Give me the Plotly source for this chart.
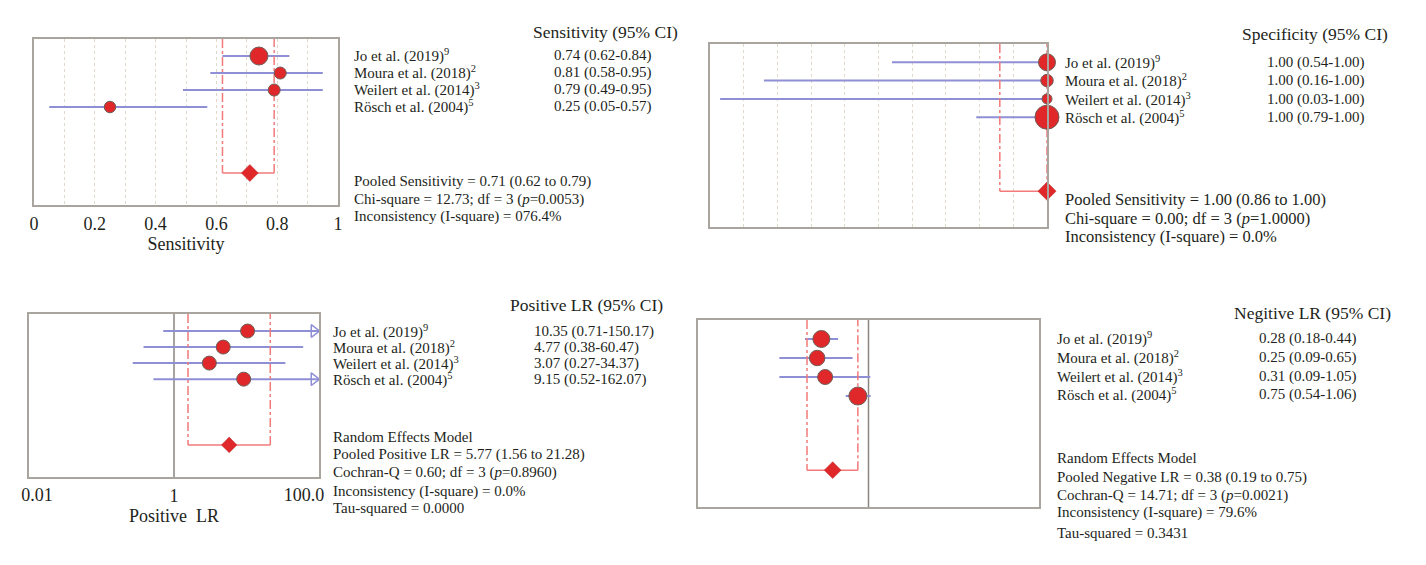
import plotly.graph_objects as go

# ---------------- data ----------------
studies = ["Jo et al. (2019)", "Moura et al. (2018)", "Weilert et al. (2014)", "Rösch et al. (2004)"]
refs = ["9", "2", "3", "5"]

sens = [0.74, 0.81, 0.79, 0.25]
sens_lo = [0.62, 0.58, 0.49, 0.05]
sens_hi = [0.84, 0.95, 0.95, 0.57]
sens_pooled = [0.71, 0.62, 0.79]

spec = [1.00, 1.00, 1.00, 1.00]
spec_lo = [0.54, 0.16, 0.03, 0.79]
spec_hi = [1.00, 1.00, 1.00, 1.00]
spec_pooled = [1.00, 0.86, 1.00]

plr = [10.35, 4.77, 3.07, 9.15]
plr_lo = [0.71, 0.38, 0.27, 0.52]
plr_hi = [150.17, 60.47, 34.37, 162.07]
plr_pooled = [5.77, 1.56, 21.28]

nlr = [0.28, 0.25, 0.31, 0.75]
nlr_lo = [0.18, 0.09, 0.09, 0.54]
nlr_hi = [0.44, 0.65, 1.05, 1.06]
nlr_pooled = [0.38, 0.19, 0.75]

sens_ticks = [0, 0.2, 0.4, 0.6, 0.8, 1]
sens_ticktext = ["0", "0.2", "0.4", "0.6", "0.8", "1"]
plr_ticks = [0.01, 1, 100]
plr_ticktext = ["0.01", "1", "100.0"]

# ---------------- style ----------------
PAGE_W, PAGE_H = 1426, 565
OFF = 8  # default body margin of the html page
W, H = PAGE_W - 2 * OFF, PAGE_H - 2 * OFF
FONT = "Liberation Serif"
TXT = "#231f20"
RED = "#e0282a"
EDGE = "#6e5f58"
CI_COL = "#8f8fd6"
POOL_COL = "#f27a7a"
BOX = "#aaa49e"
GRID = "#e0d8ca"


def px(x):
    return (x - OFF) / W


def py(y):
    return 1 - (y - OFF) / H


fig = go.Figure()

rows = [1, 2, 3, 4]


def forest(n, est, lo, hi, pooled, prow, ytop, sizes, dsize, xmax=None, arrow_x=None):
    xa = "x" if n == 1 else f"x{n}"
    ya = "y" if n == 1 else f"y{n}"
    cx, cy = [], []
    for r, l, h in zip(rows, lo, hi):
        hh = h if xmax is None else min(h, xmax)
        cx += [l, hh, None]
        cy += [r, r, None]
    fig.add_trace(go.Scatter(x=cx, y=cy, mode="lines", line=dict(color=CI_COL, width=2),
                             xaxis=xa, yaxis=ya, hoverinfo="skip", cliponaxis=False))
    if xmax is not None:
        ax_, ay_ = [], []
        for r, h in zip(rows, hi):
            if h > xmax:
                ax_.append(arrow_x)
                ay_.append(r)
        if ax_:
            fig.add_trace(go.Scatter(x=ax_, y=ay_, mode="markers",
                                     marker=dict(symbol="triangle-right-open", size=11, opacity=1,
                                                 color=CI_COL, line=dict(width=1.5, color=CI_COL)),
                                     xaxis=xa, yaxis=ya, hoverinfo="skip", cliponaxis=False))
    fig.add_trace(go.Scatter(x=[pooled[1], pooled[1], None, pooled[2], pooled[2]],
                             y=[ytop, prow, None, prow, ytop], mode="lines",
                             line=dict(color=POOL_COL, width=1.5, dash="dashdot"),
                             xaxis=xa, yaxis=ya, hoverinfo="skip", cliponaxis=False))
    fig.add_trace(go.Scatter(x=[pooled[1], pooled[2]], y=[prow, prow], mode="lines",
                             line=dict(color=POOL_COL, width=1.5),
                             xaxis=xa, yaxis=ya, hoverinfo="skip", cliponaxis=False))
    fig.add_trace(go.Scatter(x=est, y=rows, mode="markers",
                             marker=dict(size=sizes, color=RED, opacity=1,
                                         line=dict(color=EDGE, width=1)),
                             xaxis=xa, yaxis=ya, hoverinfo="skip", cliponaxis=False))
    fig.add_trace(go.Scatter(x=[pooled[0]], y=[prow], mode="markers",
                             marker=dict(symbol="diamond", size=dsize, color=RED, opacity=1,
                                         line=dict(color="#b83030", width=0.5)),
                             xaxis=xa, yaxis=ya, hoverinfo="skip", cliponaxis=False))


def refline(n, x0, ytop, ybot):
    xa = "x" if n == 1 else f"x{n}"
    ya = "y" if n == 1 else f"y{n}"
    fig.add_trace(go.Scatter(x=[x0, x0], y=[ytop, ybot], mode="lines",
                             line=dict(color="#8a8480", width=1.5),
                             xaxis=xa, yaxis=ya, hoverinfo="skip", cliponaxis=False))


P1 = dict(top=0.0, bot=9.76, prow=7.88)
P2 = dict(top=0.0, bot=10.0, prow=8.04)
P3 = dict(top=-0.06, bot=10.1, prow=8.1)
P4 = dict(top=0.0, bot=9.84, prow=7.9)

refline(3, 1, P3["top"], P3["bot"])
refline(4, 1, P4["top"], P4["bot"])

forest(1, sens, sens_lo, sens_hi, sens_pooled, P1["prow"], P1["top"], [18, 12, 12, 11.5], 13)
forest(2, spec, spec_lo, spec_hi, spec_pooled, P2["prow"], P2["top"], [17, 12.5, 10, 24], 14)
forest(3, plr, plr_lo, plr_hi, plr_pooled, P3["prow"], P3["top"], [14, 14, 14, 14], 12,
       xmax=plr_ticks[-1], arrow_x=plr_ticks[-1] / 10 ** (4 * 5 / 290))
forest(4, nlr, nlr_lo, nlr_hi, nlr_pooled, P4["prow"], P4["top"], [17, 15.5, 15, 18], 13)

# invisible anchors so the extra tick-label axes of panel 3 are drawn
for xa, v in (("x5", plr_ticks[0]), ("x6", plr_ticks[-1])):
    fig.add_trace(go.Scatter(x=[v], y=[P3["bot"]], mode="markers", marker=dict(opacity=0),
                             xaxis=xa, yaxis="y3", hoverinfo="skip"))

box = dict(showline=True, mirror=True, linecolor=BOX, linewidth=2, zeroline=False, automargin=False)
yhide = dict(showticklabels=False, showgrid=False, ticks="", **box)
tickfont = dict(size=18, family=FONT, color=TXT)
over = dict(type="log", range=[-2, 2], anchor="y3", overlaying="x3", side="bottom",
            showline=False, showgrid=False, zeroline=False, automargin=False,
            ticks="outside", ticklen=1, tickcolor="rgba(0,0,0,0)", tickfont=tickfont)

fig.update_layout(
    width=W, height=H, margin=dict(l=0, r=0, t=0, b=0, pad=0),
    paper_bgcolor="white", plot_bgcolor="white", showlegend=False,
    font=dict(family=FONT, color=TXT, size=15),
    xaxis=dict(domain=[px(34), px(338)], range=[0, 1], anchor="y",
               tickvals=sens_ticks, ticktext=sens_ticktext, ticks="outside", ticklen=1,
               tickcolor="rgba(0,0,0,0)", tickfont=tickfont,
               showgrid=True, gridcolor=GRID, griddash="dot", gridwidth=1,
               minor=dict(dtick=0.1, showgrid=True, gridcolor=GRID, griddash="dot", gridwidth=1),
               title=dict(text="Sensitivity", font=dict(size=18, family=FONT, color=TXT), standoff=1),
               **box),
    yaxis=dict(domain=[py(205), py(39)], range=[P1["bot"], P1["top"]], anchor="x", **yhide),
    xaxis2=dict(domain=[px(710), px(1047)], range=[0, 1], anchor="y2", dtick=0.1,
                showticklabels=False, ticks="", showgrid=True, gridcolor=GRID, griddash="dot",
                gridwidth=1, **box),
    yaxis2=dict(domain=[py(227), py(44)], range=[P2["bot"], P2["top"]], anchor="x2", **yhide),
    xaxis3=dict(domain=[px(29), px(319)], type="log", range=[-2, 2], anchor="y3",
                tickvals=plr_ticks[1:2], ticktext=plr_ticktext[1:2], ticks="outside", ticklen=1,
                tickcolor="rgba(0,0,0,0)", tickfont=tickfont,
                showgrid=False,
                title=dict(text="Positive\u00a0\u00a0LR", font=dict(size=18, family=FONT, color=TXT), standoff=1),
                **box),
    xaxis5=dict(tickvals=plr_ticks[0:1], ticktext=plr_ticktext[0:1], ticklabelshift=8, **over),
    xaxis6=dict(tickvals=plr_ticks[2:3], ticktext=plr_ticktext[2:3], ticklabelshift=-15, **over),
    yaxis3=dict(domain=[py(477), py(314)], range=[P3["bot"], P3["top"]], anchor="x3", **yhide),
    xaxis4=dict(domain=[px(698), px(1039)], type="log", range=[-2, 2], anchor="y4",
                showticklabels=False, ticks="", showgrid=False, **box),
    yaxis4=dict(domain=[py(507), py(320)], range=[P4["bot"], P4["top"]], anchor="x4", **yhide),
)


def label(x, y, text, size=15, anchor="left"):
    fig.add_annotation(x=px(x), y=py(y), xref="paper", yref="paper", text=text, showarrow=False,
                       xanchor=anchor, yanchor="middle", font=dict(family=FONT, size=size, color=TXT))


def fmt(v, lo, hi, d=2):
    return f"{v:.{d}f} ({lo:.{d}f}-{hi:.{d}f})"


def names(x, ys, size):
    for s, r, y in zip(studies, refs, ys):
        label(x, y, f"{s}<sup>{r}</sup>", size)


TS = 17.5

# Panel 1 text
label(680, 32, "Sensitivity (95% CI)", TS, "right")
names(352, [56, 73, 90, 107], 15)
for v, l, h, y in zip(sens, sens_lo, sens_hi, [56, 73, 90, 107]):
    label(552, y, fmt(v, l, h), 15)
label(352, 181, f"Pooled Sensitivity = {sens_pooled[0]:.2f} ({sens_pooled[1]:.2f} to {sens_pooled[2]:.2f})", 15)
label(352, 199, "Chi-square = 12.73; df = 3 (<i>p</i>=0.0053)", 15)
label(352, 216, "Inconsistency (I-square) = 076.4%", 15)

# Panel 2 text
label(1390, 34, "Specificity (95% CI)", TS, "right")
names(1063, [62, 81, 99, 117], 15)
for v, l, h, y in zip(spec, spec_lo, spec_hi, [62, 81, 99, 117]):
    label(1265, y, fmt(v, l, h), 15)
label(1063, 199, f"Pooled Sensitivity = {spec_pooled[0]:.2f} ({spec_pooled[1]:.2f} to {spec_pooled[2]:.2f})", 16.5)
label(1063, 218, "Chi-square = 0.00; df = 3 (<i>p</i>=1.0000)", 16.5)
label(1063, 237, "Inconsistency (I-square) = 0.0%", 16.5)

# Panel 3 text
label(665, 305, "Positive LR (95% CI)", TS, "right")
names(331, [331, 347, 363, 379], 15)
for v, l, h, y in zip(plr, plr_lo, plr_hi, [331, 347, 363, 379]):
    label(532, y, fmt(v, l, h), 15)
label(331, 437, "Random Effects Model", 15)
label(331, 454, f"Pooled Positive LR = {plr_pooled[0]:.2f} ({plr_pooled[1]:.2f} to {plr_pooled[2]:.2f})", 15)
label(331, 472, "Cochran-Q = 0.60; df = 3 (<i>p</i>=0.8960)", 15)
label(331, 491, "Inconsistency (I-square) = 0.0%", 15)
label(331, 508, "Tau-squared = 0.0000", 15)

# Panel 4 text
label(1393, 313, "Negitive LR (95% CI)", TS, "right")
names(1055, [338, 357, 376, 394], 15)
for v, l, h, y in zip(nlr, nlr_lo, nlr_hi, [338, 357, 376, 394]):
    label(1257, y, fmt(v, l, h), 15)
label(1055, 458, "Random Effects Model", 15)
label(1055, 477, f"Pooled Negative LR = {nlr_pooled[0]:.2f} ({nlr_pooled[1]:.2f} to {nlr_pooled[2]:.2f})", 15)
label(1055, 495, "Cochran-Q = 14.71; df = 3 (<i>p</i>=0.0021)", 15)
label(1055, 513, "Inconsistency (I-square) = 79.6%", 15)
label(1055, 533, "Tau-squared = 0.3431", 15)

fig.write_html("out.html")
